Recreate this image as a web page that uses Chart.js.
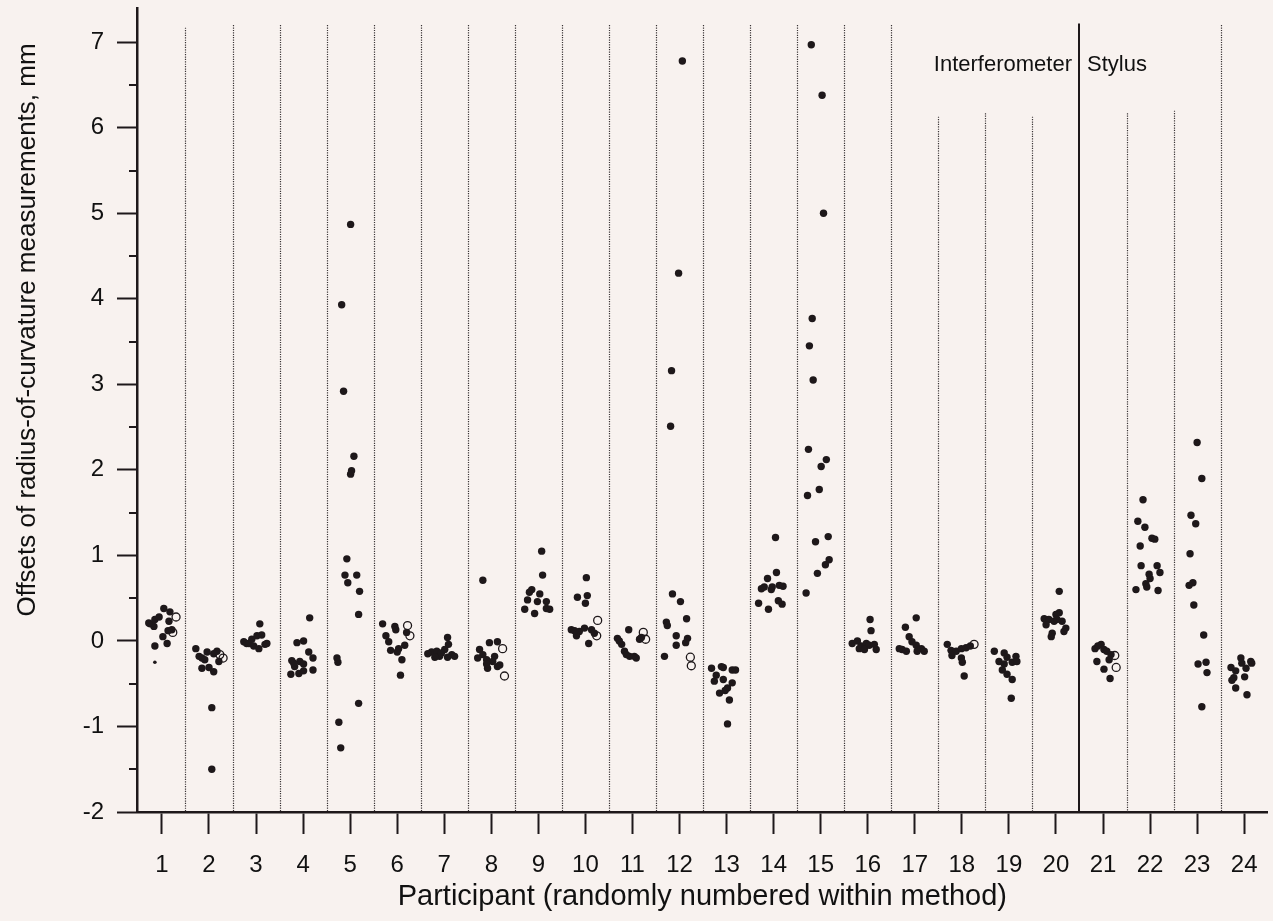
<!DOCTYPE html>
<html>
<head>
<meta charset="utf-8">
<script src="https://cdn.jsdelivr.net/npm/chart.js@4.4.0/dist/chart.umd.min.js"></script>
<style>
    html, body { margin: 0; padding: 0; background: #f8f2ef; }
    #wrap { width: 1273px; height: 921px; position: relative; }
</style>
</head>
<body>
<div id="wrap"><canvas id="chart"></canvas></div>
<script>
// participants, 1..20 interferometer, 21..24 stylus
const participants = [1, 2, 3, 4, 5, 6, 7, 8, 9, 10, 11, 12, 13, 14, 15, 16, 17, 18, 19, 20, 21, 22, 23, 24];
const yTicks = [-2, -1, 0, 1, 2, 3, 4, 5, 6, 7];
const yMinorTicks = [-1.5, -0.5, 0.5, 1.5, 2.5, 3.5, 4.5, 5.5, 6.5];

// horizontal spread of each filled point around its participant number
const filledDx = [
    [-0.25, -0.17, -0.28, -0.15, -0.06, 0.04, 0.17, 0.15, 0.13, 0.21, 0.02, 0.11, -0.15],
    [-0.28, -0.21, -0.15, -0.04, -0.09, 0.17, 0.21, -0.15, 0.00, 0.10, 0.06, 0.06, 0.10],
    [0.08, -0.26, -0.20, -0.15, -0.09, 0.02, 0.12, -0.05, 0.06, 0.19, 0.23],
    [0.14, -0.13, 0.01, 0.12, -0.24, -0.18, -0.07, 0.01, 0.21, 0.21, -0.09, -0.26, 0.01, -0.20],
    [0.01, -0.18, -0.14, 0.08, 0.01, 0.03, -0.07, -0.11, 0.14, -0.05, 0.20, 0.18, -0.28, -0.26, 0.18, -0.24, -0.20],
    [-0.31, -0.05, -0.03, -0.24, -0.18, 0.20, 0.16, 0.03, 0.00, -0.14, 0.10, 0.07],
    [0.07, 0.09, -0.27, -0.16, -0.10, 0.01, 0.16, 0.22, -0.20, 0.07, -0.06, -0.35],
    [-0.18, -0.25, -0.04, 0.13, -0.18, -0.10, 0.07, 0.18, -0.08, 0.13, -0.29, 0.03, -0.10],
    [0.07, 0.09, -0.14, 0.03, -0.23, -0.02, 0.17, -0.29, -0.08, 0.17, 0.24, -0.19],
    [0.02, -0.17, 0.04, 0.00, -0.30, -0.13, -0.02, -0.19, 0.13, 0.19, 0.07, -0.23],
    [-0.08, -0.32, -0.23, -0.17, -0.06, 0.04, 0.19, 0.08, -0.28, -0.13, 0.15],
    [0.06, -0.02, -0.17, -0.19, -0.15, 0.02, 0.15, -0.28, -0.26, -0.07, 0.17, 0.13, -0.07, -0.32],
    [-0.32, -0.11, -0.07, 0.12, 0.19, -0.22, -0.26, -0.07, 0.12, 0.02, -0.03, -0.15, 0.06, 0.02],
    [0.04, 0.06, -0.13, -0.26, -0.20, -0.03, 0.12, -0.05, -0.32, -0.11, 0.10, 0.18, 0.20],
    [-0.20, 0.03, 0.06, -0.18, -0.24, -0.16, -0.26, 0.12, 0.01, -0.03, -0.28, 0.16, -0.11, 0.18, 0.10, -0.07, -0.31],
    [0.05, 0.07, -0.33, -0.22, -0.14, -0.03, 0.03, 0.14, 0.18, -0.18, -0.07],
    [0.03, -0.20, -0.12, -0.06, -0.27, -0.33, 0.14, 0.20, 0.03, 0.05, -0.18],
    [-0.31, -0.23, -0.12, -0.01, 0.09, 0.18, -0.21, -0.01, 0.01, 0.05],
    [-0.31, -0.10, -0.04, 0.15, -0.21, -0.10, 0.07, 0.17, -0.14, -0.04, 0.07, 0.05],
    [0.07, 0.07, 0.00, -0.25, -0.15, -0.04, 0.13, -0.21, 0.21, 0.17, -0.08, -0.10, 0.02],
    [-0.17, -0.04, 0.02, 0.08, 0.17, -0.13, 0.13, 0.02, 0.15, -0.11],
    [-0.15, -0.26, -0.11, 0.04, 0.10, -0.21, -0.19, 0.15, 0.21, -0.02, 0.00, -0.09, -0.07, -0.30, 0.17],
    [0.00, 0.10, -0.13, -0.03, -0.15, -0.09, -0.17, -0.07, 0.14, 0.02, 0.19, 0.21, 0.10],
    [-0.07, 0.14, 0.04, -0.28, -0.18, -0.22, 0.01, -0.18, 0.06, 0.16, -0.05, -0.26],
];

// offsets of radius-of-curvature measurements, mm (filled markers)
const filledY = [
    [0.20, 0.17, 0.21, 0.25, 0.28, 0.38, 0.34, 0.23, 0.12, 0.13, 0.05, -0.03, -0.06],
    [-0.09, -0.18, -0.20, -0.13, -0.22, -0.12, -0.24, -0.32, -0.31, -0.36, -0.78, -1.50, -0.15],
    [0.20, -0.01, -0.03, -0.03, 0.02, 0.06, 0.07, -0.06, -0.09, -0.04, -0.03],
    [0.27, -0.02, 0.00, -0.13, -0.23, -0.30, -0.24, -0.27, -0.20, -0.34, -0.38, -0.39, -0.35, -0.26],
    [4.87, 3.93, 2.92, 2.16, 1.95, 1.99, 0.96, 0.77, 0.77, 0.68, 0.58, 0.31, -0.20, -0.25, -0.73, -0.95, -1.25],
    [0.20, 0.17, 0.13, 0.06, -0.01, 0.10, -0.05, -0.09, -0.13, -0.11, -0.22, -0.40],
    [0.04, -0.04, -0.13, -0.12, -0.18, -0.10, -0.16, -0.18, -0.19, -0.19, -0.14, -0.15],
    [0.71, -0.10, -0.02, -0.01, -0.16, -0.22, -0.18, -0.28, -0.32, -0.30, -0.20, -0.24, -0.27],
    [1.05, 0.77, 0.60, 0.55, 0.48, 0.46, 0.46, 0.37, 0.32, 0.38, 0.37, 0.57],
    [0.74, 0.51, 0.53, 0.44, 0.13, 0.11, 0.15, 0.06, 0.13, 0.09, -0.03, 0.12],
    [0.13, 0.03, -0.04, -0.12, -0.18, -0.18, 0.04, -0.20, 0.00, -0.16, 0.02],
    [6.78, 4.30, 3.16, 2.51, 0.55, 0.46, 0.26, 0.22, 0.18, 0.06, 0.03, -0.02, -0.05, -0.18],
    [-0.32, -0.30, -0.31, -0.34, -0.34, -0.40, -0.47, -0.45, -0.49, -0.55, -0.58, -0.61, -0.69, -0.97],
    [1.21, 0.80, 0.73, 0.61, 0.63, 0.63, 0.65, 0.60, 0.44, 0.37, 0.47, 0.43, 0.64],
    [6.97, 6.38, 5.00, 3.77, 3.45, 3.05, 2.24, 2.12, 2.04, 1.77, 1.70, 1.22, 1.16, 0.95, 0.89, 0.79, 0.56],
    [0.25, 0.12, -0.03, 0.00, -0.06, -0.03, -0.05, -0.04, -0.10, -0.09, -0.10],
    [0.27, 0.16, 0.05, -0.01, -0.10, -0.09, -0.09, -0.12, -0.05, -0.12, -0.12],
    [-0.04, -0.11, -0.12, -0.09, -0.08, -0.06, -0.17, -0.20, -0.25, -0.41],
    [-0.12, -0.14, -0.19, -0.18, -0.24, -0.27, -0.25, -0.24, -0.34, -0.39, -0.45, -0.67],
    [0.58, 0.33, 0.31, 0.26, 0.25, 0.23, 0.23, 0.19, 0.15, 0.11, 0.09, 0.05, 0.25],
    [-0.09, -0.04, -0.10, -0.12, -0.16, -0.24, -0.22, -0.33, -0.44, -0.06],
    [1.65, 1.40, 1.33, 1.20, 1.19, 1.11, 0.88, 0.88, 0.80, 0.78, 0.73, 0.67, 0.63, 0.60, 0.59],
    [2.32, 1.90, 1.47, 1.37, 1.02, 0.68, 0.65, 0.42, 0.07, -0.27, -0.25, -0.37, -0.77],
    [-0.20, -0.24, -0.32, -0.31, -0.35, -0.43, -0.42, -0.55, -0.63, -0.26, -0.26, -0.46],
];

// open markers
const openP = [1, 1, 2, 2, 6, 6, 8, 8, 10, 10, 11, 11, 12, 12, 18, 21, 21];
const openDx = [0.30, 0.23, 0.23, 0.30, 0.22, 0.27, 0.24, 0.28, 0.26, 0.24, 0.23, 0.28, 0.23, 0.25, 0.26, 0.25, 0.28];
const openY = [0.28, 0.10, -0.16, -0.20, 0.18, 0.06, -0.09, -0.41, 0.24, 0.06, 0.10, 0.02, -0.19, -0.29, -0.04, -0.17, -0.31];

// small marker
const smallP = [1];
const smallDx = [-0.15];
const smallY = [-0.25];

// dotted separators between participants and where each one starts
const sepX = [1.5, 2.5, 3.5, 4.5, 5.5, 6.5, 7.5, 8.5, 9.5, 10.5, 11.5, 12.5, 13.5, 14.5, 15.5, 16.5, 17.5, 18.5, 19.5, 21.5, 22.5, 23.5];
const sepTop = [7.17, 7.2, 7.2, 7.2, 7.2, 7.2, 7.2, 7.2, 7.2, 7.2, 7.2, 7.2, 7.2, 7.2, 7.2, 7.2, 6.13, 6.17, 6.13, 6.17, 6.2, 7.2];
const methodSplit = 20.5;
const methodSplitTop = 7.22;
const methodLabelY = 6.73;

const INK = '#1e181a';
const FONT = "'Liberation Sans', Arial, Helvetica, sans-serif";
const Y_TITLE = 'Offsets of radius-of-curvature measurements, mm';

const filledPts = [];
participants.forEach((p, i) => {
    filledDx[i].forEach((d, j) => filledPts.push({ x: p + d, y: filledY[i][j] }));
});
const openPts = openP.map((p, i) => ({ x: p + openDx[i], y: openY[i] }));
const smallPts = smallP.map((p, i) => ({ x: p + smallDx[i], y: smallY[i] }));

const decor = {
    id: 'decor',
    beforeDatasetsDraw(chart) {
        const { ctx, scales: { x, y } } = chart;
        ctx.save();
        ctx.strokeStyle = '#3a3436';
        ctx.lineWidth = 1.2;
        ctx.setLineDash([1.2, 1.2]);
        sepX.forEach((v, i) => {
            const px = Math.round(x.getPixelForValue(v)) + 0.5;
            ctx.beginPath();
            ctx.moveTo(px, y.getPixelForValue(sepTop[i]));
            ctx.lineTo(px, y.getPixelForValue(-2));
            ctx.stroke();
        });
        ctx.setLineDash([]);
        ctx.strokeStyle = INK;
        ctx.lineWidth = 2;
        const sx = Math.round(x.getPixelForValue(methodSplit));
        ctx.beginPath();
        ctx.moveTo(sx, y.getPixelForValue(methodSplitTop));
        ctx.lineTo(sx, y.getPixelForValue(-2));
        ctx.stroke();

        ctx.fillStyle = '#111';
        ctx.font = '22px ' + FONT;
        ctx.textBaseline = 'middle';
        const ly = y.getPixelForValue(methodLabelY);
        ctx.textAlign = 'right';
        ctx.fillText('Interferometer', sx - 7, ly);
        ctx.textAlign = 'left';
        ctx.fillText('Stylus', sx + 8, ly);
        ctx.restore();
    },
    afterDraw(chart) {
        const { ctx, scales: { y } } = chart;
        ctx.save();
        ctx.strokeStyle = INK;
        ctx.lineWidth = 2;
        yMinorTicks.forEach(v => {
            const py = Math.round(y.getPixelForValue(v));
            ctx.beginPath();
            ctx.moveTo(y.right - 8, py);
            ctx.lineTo(y.right, py);
            ctx.stroke();
        });
        // y axis title, sits above the middle of the axis as in the original
        ctx.translate(28, 330);
        ctx.rotate(-Math.PI / 2);
        ctx.fillStyle = '#111';
        ctx.font = '26px ' + FONT;
        ctx.textAlign = 'center';
        ctx.textBaseline = 'middle';
        ctx.fillText(Y_TITLE, 0, 0);
        ctx.restore();
    },
};

new Chart(document.getElementById('chart'), {
    type: 'scatter',
    data: {
        datasets: [
            { data: filledPts, pointRadius: 3.7, pointBorderWidth: 0, backgroundColor: INK, borderColor: INK },
            { data: smallPts, pointRadius: 1.8, pointBorderWidth: 0, backgroundColor: INK, borderColor: INK },
            { data: openPts, pointRadius: 4, pointBorderWidth: 1.3, backgroundColor: 'rgba(0,0,0,0)', borderColor: INK },
        ],
    },
    options: {
        responsive: true,
        maintainAspectRatio: false,
        animation: false,
        layout: { padding: { top: 8, right: 4, left: 0, bottom: 0 } },
        plugins: { legend: { display: false }, tooltip: { enabled: false } },
        scales: {
            x: {
                type: 'linear',
                min: 0.47,
                max: 24.5,
                afterBuildTicks: s => { s.ticks = participants.map(v => ({ value: v })); },
                afterFit: s => { s.height = 109; s.paddingLeft = 0; s.paddingRight = 0; },
                ticks: { autoSkip: false, maxRotation: 0, padding: 17, color: '#111', font: { family: FONT, size: 24 }, callback: v => String(v) },
                grid: { drawOnChartArea: false, tickLength: 22, tickWidth: 2, tickColor: INK, color: INK },
                border: { display: true, color: INK, width: 2.5 },
                title: { display: true, text: 'Participant (randomly numbered within method)', color: '#111', font: { family: FONT, size: 29 }, padding: { top: 0, bottom: 7 } },
            },
            y: {
                type: 'linear',
                min: -2,
                max: 7.4,
                afterBuildTicks: s => { s.ticks = yTicks.map(v => ({ value: v })); },
                afterFit: s => { s.width = 137; s.paddingTop = 0; s.paddingBottom = 0; },
                ticks: { padding: 13, color: '#111', font: { family: FONT, size: 24 }, callback: v => String(v) },
                grid: { drawOnChartArea: false, tickLength: 20, tickWidth: 2, tickColor: INK, color: INK },
                border: { display: true, color: INK, width: 2.5 },
            },
        },
    },
    plugins: [decor],
});
</script>
</body>
</html>
